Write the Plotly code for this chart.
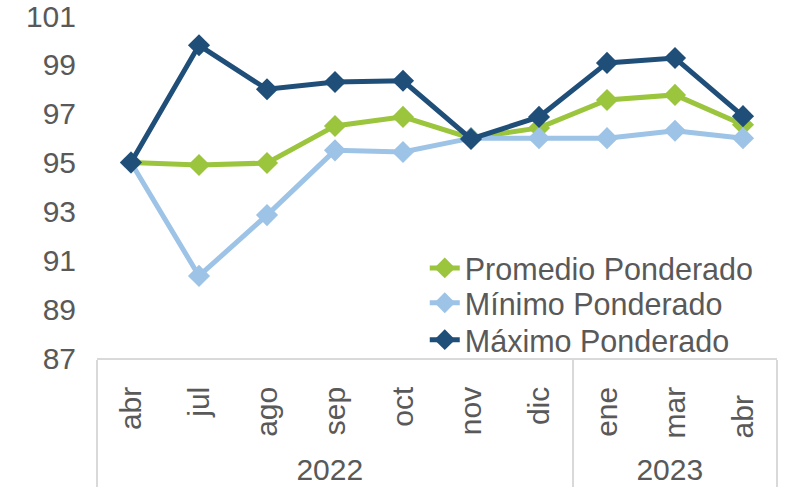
import plotly.graph_objects as go

# Datos
anios = ["2022"] * 7 + ["2023"] * 3
# el segundo "abr" lleva un espacio final para que plotly no lo reordene
meses = ["abr", "jul", "ago", "sep", "oct", "nov", "dic", "ene", "mar", "abr "]

promedio = [95.0, 94.9, 94.98, 96.5, 96.87, 96.0, 96.42, 97.56, 97.77, 96.55]
minimo = [95.0, 90.36, 92.85, 95.5, 95.43, 96.0, 96.0, 96.0, 96.3, 96.0]
maximo = [95.0, 99.8, 98.0, 98.3, 98.35, 95.97, 96.87, 99.08, 99.28, 96.9]

series = [
    ("Promedio Ponderado", promedio, "#9BC53D", "legend"),
    ("Mínimo Ponderado", minimo, "#9DC3E6", "legend2"),
    ("Máximo Ponderado", maximo, "#1F4E79", "legend3"),
]

fig = go.Figure()
for nombre, valores, color, leyenda in series:
    fig.add_trace(go.Scatter(
        x=[anios, meses],
        y=valores,
        name=nombre,
        legend=leyenda,
        mode="lines+markers",
        line=dict(color=color, width=5),
        marker=dict(symbol="diamond", size=17, color=color),
    ))

# una leyenda por serie para ajustar el espaciado entre filas
estilo_leyenda = dict(
    x=0.482, xanchor="left", yanchor="middle",
    bgcolor="rgba(0,0,0,0)",
    font=dict(size=30.5, color="#595959"),
)

fig.update_layout(
    width=786,
    height=491,
    margin=dict(l=97, r=9, t=16, b=133),
    paper_bgcolor="white",
    plot_bgcolor="white",
    font=dict(family="Liberation Sans, Arial", size=30, color="#595959"),
    showlegend=True,
    legend=dict(y=0.263, **estilo_leyenda),
    legend2=dict(y=0.161, **estilo_leyenda),
    legend3=dict(y=0.053, **estilo_leyenda),
)
fig.update_xaxes(
    type="multicategory",
    range=[-0.5, 9.5],
    automargin=False,
    tickangle=-90,
    showline=True,
    linecolor="#D9D9D9",
    linewidth=1.5,
    showgrid=False,
    ticks="",
    ticklabelstandoff=15,
    showdividers=True,
    dividercolor="#D9D9D9",
    dividerwidth=1.5,
    tickfont=dict(size=30, color="#595959"),
)
fig.update_yaxes(
    automargin=False,
    range=[87, 101],
    dtick=2,
    tick0=87,
    showgrid=False,
    zeroline=False,
    showline=False,
    ticklabelstandoff=20,
    ticklabeloverflow="allow",
    tickfont=dict(size=30, color="#595959"),
)

# quitar el margen por defecto del body para que la figura ocupe toda la ventana
fig.write_html(
    "out.html",
    config={"displayModeBar": False},
    post_script="document.body.style.margin = '0';",
)
